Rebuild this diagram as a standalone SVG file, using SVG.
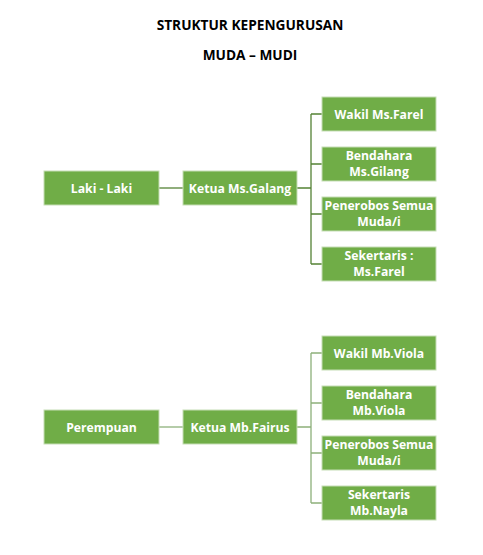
<svg xmlns="http://www.w3.org/2000/svg" width="483" height="555" viewBox="0 0 483 555">
<style>
.title{font-family:"Open Sans","Liberation Sans",sans-serif;font-weight:bold;font-size:13.7px;fill:#000;text-anchor:middle}
.box{fill:#70AD47;stroke:#C5DDB5;stroke-width:1}
.lbl{font-family:"Open Sans","Liberation Sans",sans-serif;font-weight:bold;font-size:12.2px;fill:#fff;text-anchor:middle}
.c1{stroke:#548235;stroke-width:1.3;fill:none}
.c2{stroke:#8DB07A;stroke-width:1.3;fill:none}
</style>
<rect width="483" height="555" fill="#fff"/>
<text class="title" x="250" y="30">STRUKTUR KEPENGURUSAN</text>
<text class="title" x="250" y="60">MUDA – MUDI</text>
<g id="connectors">
<line class="c1" x1="159" y1="188" x2="183" y2="188"/>
<path class="c1" d="M297 188H311M311 114V264M311 114H322M311 164H322M311 214H322M311 264H322"/>
<line class="c2" x1="159" y1="427" x2="183" y2="427"/>
<path class="c2" d="M297 427H311M311 353V503M311 353H322M311 403H322M311 453H322M311 503H322"/>
</g>
<g id="laki"><rect class="box" x="44" y="171" width="115" height="34"/><text class="lbl" x="101.5" y="192.5">Laki - Laki</text></g>
<g id="ketua-galang"><rect class="box" x="183" y="171" width="114" height="34"/><text class="lbl" x="240" y="192.5">Ketua Ms.Galang</text></g>
<g id="wakil-farel"><rect class="box" x="322" y="97" width="114" height="34"/><text class="lbl" x="379" y="118.5">Wakil Ms.Farel</text></g>
<g id="bendahara-gilang"><rect class="box" x="322" y="147" width="114" height="34"/><text class="lbl" x="379" y="160">Bendahara</text><text class="lbl" x="379" y="176">Ms.Gilang</text></g>
<g id="penerobos-1"><rect class="box" x="322" y="197" width="114" height="34"/><text class="lbl" x="379" y="210">Penerobos Semua</text><text class="lbl" x="379" y="226">Muda/i</text></g>
<g id="sekertaris-farel"><rect class="box" x="322" y="247" width="114" height="34"/><text class="lbl" x="379" y="260">Sekertaris :</text><text class="lbl" x="379" y="276">Ms.Farel</text></g>
<g id="perempuan"><rect class="box" x="44" y="410" width="115" height="34"/><text class="lbl" x="101.5" y="431.5">Perempuan</text></g>
<g id="ketua-fairus"><rect class="box" x="183" y="410" width="114" height="34"/><text class="lbl" x="240" y="431.5">Ketua Mb.Fairus</text></g>
<g id="wakil-viola"><rect class="box" x="322" y="336" width="114" height="34"/><text class="lbl" x="379" y="357.5">Wakil Mb.Viola</text></g>
<g id="bendahara-viola"><rect class="box" x="322" y="386" width="114" height="34"/><text class="lbl" x="379" y="399">Bendahara</text><text class="lbl" x="379" y="415">Mb.Viola</text></g>
<g id="penerobos-2"><rect class="box" x="322" y="436" width="114" height="34"/><text class="lbl" x="379" y="449">Penerobos Semua</text><text class="lbl" x="379" y="465">Muda/i</text></g>
<g id="sekertaris-nayla"><rect class="box" x="322" y="486" width="114" height="34"/><text class="lbl" x="379" y="499">Sekertaris</text><text class="lbl" x="379" y="515">Mb.Nayla</text></g>
</svg>
